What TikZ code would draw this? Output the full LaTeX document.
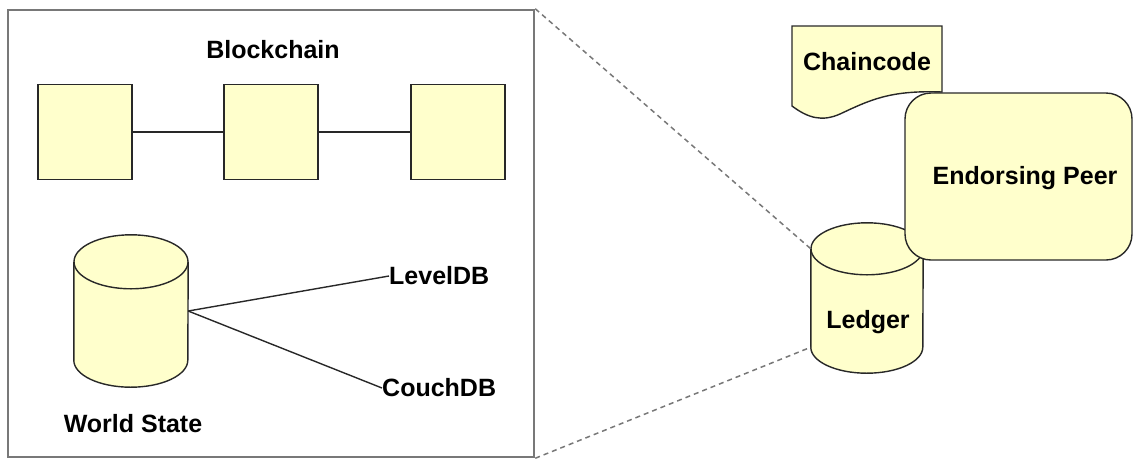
\documentclass[tikz,border=0pt]{standalone}
\usepackage{fontspec}
\setmainfont{Liberation Sans}
\usepackage{tikz}
\usetikzlibrary{calc, positioning}

\definecolor{paleyellow}{RGB}{255,255,204}
\definecolor{edgegray}{RGB}{120,120,120}
\definecolor{ink}{RGB}{40,40,40}

\tikzset{
    blk/.style={draw=ink, fill=paleyellow, line width=1.4pt, minimum width=94pt, minimum height=95pt},
    dbspot/.style={inner sep=0pt},
    dbline/.style={draw=ink, fill=paleyellow, line width=1.4pt},
    lbl/.style={font=\fontsize{25}{30}\selectfont\bfseries, inner sep=0pt}
}
% cylinder on a named node: #1 node, #2 half width, #3 cap radius
\newcommand{\dbshape}[3]{%
    \filldraw[dbline] ($(#1.north west)+(0,#3)$) -- ($(#1.south west)+(0,-#3)$)
        arc[start angle=180, end angle=0, x radius=#2, y radius=#3]
        -- ($(#1.north east)+(0,#3)$);
    \filldraw[dbline] ($(#1.north)+(0,#3)$) ellipse [x radius=#2, y radius=#3];
}

\begin{document}
\begin{tikzpicture}[x=1pt, y=-1pt]
    \useasboundingbox (0,0) rectangle (1135,459);
    % ledger frame
    \node[draw=edgegray, line width=2.5pt, minimum width=526pt, minimum height=447pt, inner sep=0pt] (frame) at (271,233.5) {};
    \node[lbl] (chain) at (273,50) {Blockchain};
    \foreach \i/\x in {1/85,2/271,3/458} {
        \node[blk] (b\i) at (\x,132) {};
    }
    \draw[ink, line width=1.4pt] (b1) -- (b2) -- (b3);
    % world state
    \node[dbspot, minimum width=114pt, minimum height=152pt] (ws) at (131,311) {};
    \dbshape{ws}{57}{27}
    \node[lbl] (wslabel) at (133,424) {World State};
    \node[lbl, anchor=west] (level) at (389,276) {LevelDB};
    \node[lbl, anchor=west] (couch) at (382,388) {CouchDB};
    \draw[ink, line width=1.4pt] (ws.east) -- (level.west);
    \draw[ink, line width=1.4pt] (ws.east) -- (couch.west);
    % peer side
    \draw[draw=ink, fill=paleyellow, line width=1.4pt] (792,26) -- (942,26) -- (942,92)
        .. controls (890,90) and (870,100) .. (840,114)
        .. controls (822,122) and (808,118) .. (792,106) -- cycle;
    \node[lbl] (code) at (867,62) {Chaincode};
    \node[dbspot, minimum width=112pt, minimum height=150pt] (ledger) at (867,298) {};
    \dbshape{ledger}{56}{26}
    \coordinate (ledgertop) at ($(ledger.north west)+(0,26)$);
    \coordinate (ledgerbot) at ($(ledger.south west)+(0,-26)$);
    \node[draw=ink, fill=paleyellow, line width=1.4pt, rounded corners=26pt, minimum width=227pt, minimum height=167pt] (peer) at (1018.5,176.5) {};
    \node[lbl] (peerlabel) at (1025,178) {Endorsing Peer};
    \node[lbl] (ledgerlabel) at (868,322) {Ledger};
    \draw[edgegray, dash pattern=on 5pt off 4pt, line width=1.5pt] (frame.north east) -- (ledgertop);
    \draw[edgegray, dash pattern=on 5pt off 4pt, line width=1.5pt] (frame.south east) -- (ledgerbot);
\end{tikzpicture}
\end{document}
